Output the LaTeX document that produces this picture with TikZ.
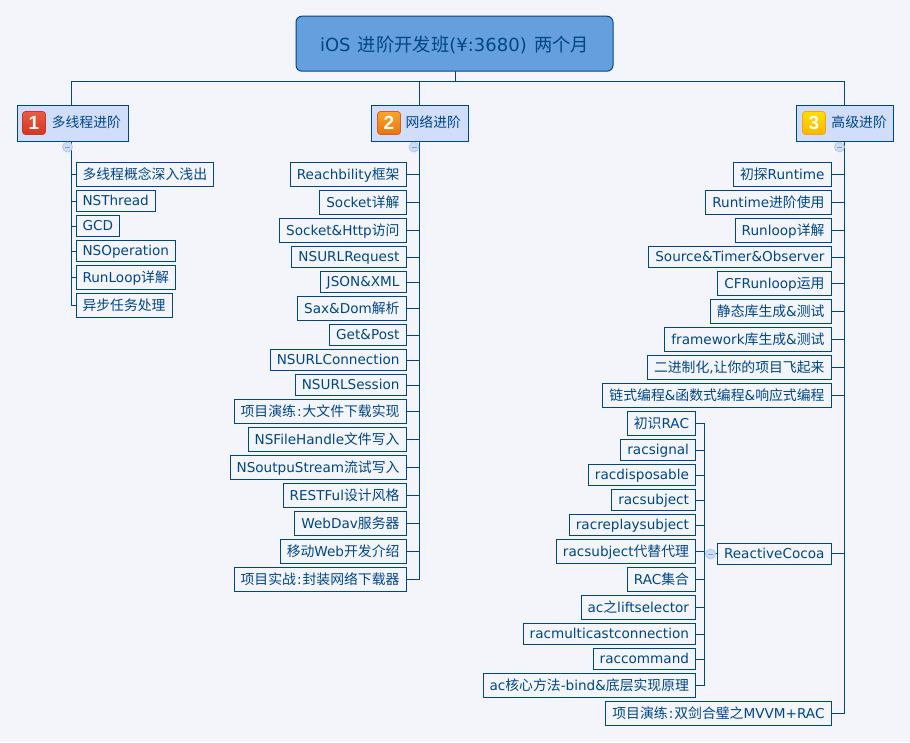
\documentclass[tikz,border=0pt]{standalone}
\usepackage{fontspec}
\setmainfont{DejaVu Sans}
\newfontfamily\cjk[Scale=1.018]{Noto Sans CJK SC}
\newfontfamily\numfont{Liberation Sans}
\newcommand{\zh}[1]{{\cjk #1}}
\newcommand{\colonsp}{\kern1pt:\kern1pt}
\usepackage{tikz}
\usetikzlibrary{arrows.meta,positioning}
\usepackage{xcolor}
\definecolor{inkblue}{RGB}{0,70,135}
\definecolor{pagetint}{RGB}{243,245,251}
\definecolor{rootblue}{RGB}{101,159,221}
\definecolor{branchblue}{RGB}{208,221,251}
\definecolor{foldblue}{RGB}{204,220,247}
\definecolor{redtop}{RGB}{234,92,68}
\definecolor{redbot}{RGB}{214,52,32}
\definecolor{redrim}{RGB}{190,60,45}
\definecolor{ambertop}{RGB}{248,166,44}
\definecolor{ambbot}{RGB}{232,116,14}
\definecolor{amberrim}{RGB}{216,92,36}
\definecolor{goldtop}{RGB}{255,222,0}
\definecolor{goldbot}{RGB}{255,182,0}
\definecolor{goldrim}{RGB}{248,162,36}

\begin{document}
\begin{tikzpicture}[x=1pt,y=-1pt,line width=1pt,
  link/.style={draw=inkblue,line width=1pt},
  rootbox/.style={draw=inkblue,fill=rootblue,rounded corners=6pt,text=inkblue,outer sep=0pt,minimum width=317pt,minimum height=55pt,text height=19pt,text depth=4pt,font=\fontsize{18}{20}\selectfont},
  branch/.style={draw=inkblue,fill=branchblue,text=inkblue,outer sep=0pt,inner xsep=7pt,inner ysep=0pt,minimum height=36pt,align=right,text height=12pt,text depth=3pt,font=\fontsize{13.6}{16}\selectfont},
  leaf/.style={draw=inkblue,text=inkblue,outer sep=0pt,inner xsep=6.5pt,inner ysep=0pt,minimum height=21pt,text height=12pt,text depth=3pt,font=\fontsize{13.6}{16}\selectfont},
  zleaf/.style={leaf,minimum height=24pt},
  nextl/.style={below=4pt of #1.south west,anchor=north west},
  nextr/.style={below=4pt of #1.south east,anchor=north east},
  badge/.style={rounded corners=3pt,minimum size=23pt,inner sep=0pt,outer sep=0pt,line width=.8pt,text=white,font=\numfont\bfseries\fontsize{19}{20}\selectfont},
  fold/.style={circle,draw=foldblue!85!inkblue,fill=foldblue,minimum size=10pt,inner sep=0pt,outer sep=0pt,line width=.6pt,
    path picture={\draw[inkblue!50,line width=.7pt] ([xshift=-2.5pt]path picture bounding box.center) -- ([xshift=2.5pt]path picture bounding box.center);}}]
  \fill[pagetint] (0,0) rectangle (910,742);

  \node (root) [rootbox] at (454.5,43.7) {iOS\hspace{1.5pt} \zh{进阶开发班}(¥:3680)\hspace{1.5pt} \zh{两个月}};
  \coordinate (hub) at (455,81.5);
  \node (multi) [branch,text width=97pt] at (72.5,123) {\zh{多线程进阶}};
  \node (net) [branch,text width=83pt] at (419.5,123) {\zh{网络进阶}};
  \node (adv) [branch,text width=83.7pt] at (845,123) {\zh{高级进阶}};
  \node (num1) [badge,draw=redrim,top color=redtop,bottom color=redbot] at (34,123) {1};
  \node (num2) [badge,draw=amberrim,top color=ambertop,bottom color=ambbot] at (389,123) {2};
  \node (num3) [badge,draw=goldrim,top color=goldtop,bottom color=goldbot] at (814,123) {3};
  \coordinate (multitop) at (71,105);
  \coordinate (nettop) at (419,105);
  \coordinate (advtop) at (844,105);
  \coordinate (multibus) at (71,141);
  \coordinate (netbus) at (419,141);
  \coordinate (advbus) at (844,141);

  \node (multi1) [zleaf,anchor=north west] at (76,162.5) {\zh{多线程概念深入浅出}};
  \node (multi2) [leaf,nextl=multi1] {NSThread};
  \node (multi3) [leaf,nextl=multi2] {GCD};
  \node (multi4) [leaf,nextl=multi3] {NSOperation};
  \node (multi5) [zleaf,nextl=multi4] {RunLoop\zh{详解}};
  \node (multi6) [zleaf,nextl=multi5] {\zh{异步任务处理}};

  \node (net1) [zleaf,anchor=north east] at (406,162.5) {Reachbility\zh{框架}};
  \node (net2) [zleaf,nextr=net1] {Socket\zh{详解}};
  \node (net3) [zleaf,nextr=net2] {Socket\&Http\zh{访问}};
  \node (net4) [leaf,nextr=net3] {NSURLRequest};
  \node (net5) [leaf,nextr=net4] {JSON\&XML};
  \node (net6) [zleaf,nextr=net5] {Sax\&Dom\zh{解析}};
  \node (net7) [leaf,nextr=net6] {Get\&Post};
  \node (net8) [leaf,nextr=net7] {NSURLConnection};
  \node (net9) [leaf,nextr=net8] {NSURLSession};
  \node (net10) [zleaf,nextr=net9] {\zh{项目演练}\colonsp\zh{大文件下载实现}};
  \node (net11) [zleaf,nextr=net10] {NSFileHandle\zh{文件写入}};
  \node (net12) [zleaf,nextr=net11] {NSoutpuStream\zh{流试写入}};
  \node (net13) [zleaf,nextr=net12] {RESTFul\zh{设计风格}};
  \node (net14) [zleaf,nextr=net13] {WebDav\zh{服务器}};
  \node (net15) [zleaf,nextr=net14] {\zh{移动}Web\zh{开发介绍}};
  \node (net16) [zleaf,nextr=net15] {\zh{项目实战}\colonsp\zh{封装网络下载器}};

  \node (adv1) [zleaf,anchor=north east] at (831,162.5) {\zh{初探}Runtime};
  \node (adv2) [zleaf,nextr=adv1] {Runtime\zh{进阶使用}};
  \node (adv3) [zleaf,nextr=adv2] {Runloop\zh{详解}};
  \node (adv4) [leaf,nextr=adv3] {Source\&Timer\&Observer};
  \node (adv5) [zleaf,nextr=adv4] {CFRunloop\zh{运用}};
  \node (adv6) [zleaf,nextr=adv5] {\zh{静态库生成}\&\zh{测试}};
  \node (adv7) [zleaf,nextr=adv6] {framework\zh{库生成}\&\zh{测试}};
  \node (adv8) [zleaf,nextr=adv7] {\zh{二进制化},\zh{让你的项目飞起来}};
  \node (adv9) [zleaf,nextr=adv8] {\zh{链式编程}\&\zh{函数式编程}\&\zh{响应式编程}};
  \node (advrac) [leaf,anchor=east] at (831,553.5) {ReactiveCocoa};
  \node (advlast) [zleaf,anchor=north east] at (831,701.5) {\zh{项目演练}\colonsp\zh{双剑合璧之}MVVM+RAC};

  \node (rac1) [zleaf,anchor=north east] at (695.5,411.5) {\zh{初识}RAC};
  \node (rac2) [leaf,nextr=rac1] {racsignal};
  \node (rac3) [leaf,nextr=rac2] {racdisposable};
  \node (rac4) [leaf,nextr=rac3] {racsubject};
  \node (rac5) [leaf,nextr=rac4] {racreplaysubject};
  \node (rac6) [zleaf,nextr=rac5] {racsubject\zh{代替代理}};
  \node (rac7) [zleaf,nextr=rac6] {RAC\zh{集合}};
  \node (rac8) [zleaf,nextr=rac7] {ac\zh{之}liftselector};
  \node (rac9) [leaf,nextr=rac8] {racmulticastconnection};
  \node (rac10) [leaf,nextr=rac9] {raccommand};
  \node (rac11) [zleaf,nextr=rac10] {ac\zh{核心方法}-bind\&\zh{底层实现原理}};
  \coordinate (racbus) at (704,553.5);

  \draw[link] (root.south -| hub) -- (hub);
  \draw[link] (hub) -| (multitop);
  \draw[link] (hub) -| (nettop);
  \draw[link] (hub) -| (advtop);

  \draw[link] (multibus) |- (multi1.west);
  \draw[link] (multibus) |- (multi2.west);
  \draw[link] (multibus) |- (multi3.west);
  \draw[link] (multibus) |- (multi4.west);
  \draw[link] (multibus) |- (multi5.west);
  \draw[link] (multibus) |- (multi6.west);

  \draw[link] (netbus) |- (net1.east);
  \draw[link] (netbus) |- (net2.east);
  \draw[link] (netbus) |- (net3.east);
  \draw[link] (netbus) |- (net4.east);
  \draw[link] (netbus) |- (net5.east);
  \draw[link] (netbus) |- (net6.east);
  \draw[link] (netbus) |- (net7.east);
  \draw[link] (netbus) |- (net8.east);
  \draw[link] (netbus) |- (net9.east);
  \draw[link] (netbus) |- (net10.east);
  \draw[link] (netbus) |- (net11.east);
  \draw[link] (netbus) |- (net12.east);
  \draw[link] (netbus) |- (net13.east);
  \draw[link] (netbus) |- (net14.east);
  \draw[link] (netbus) |- (net15.east);
  \draw[link] (netbus) |- (net16.east);

  \draw[link] (advbus) |- (adv1.east);
  \draw[link] (advbus) |- (adv2.east);
  \draw[link] (advbus) |- (adv3.east);
  \draw[link] (advbus) |- (adv4.east);
  \draw[link] (advbus) |- (adv5.east);
  \draw[link] (advbus) |- (adv6.east);
  \draw[link] (advbus) |- (adv7.east);
  \draw[link] (advbus) |- (adv8.east);
  \draw[link] (advbus) |- (adv9.east);
  \draw[link] (advbus) |- (advrac.east);
  \draw[link] (advbus) |- (advlast.east);

  \draw[link] (advrac.west) -- (racbus);
  \draw[link] (racbus) |- (rac1.east);
  \draw[link] (racbus) |- (rac2.east);
  \draw[link] (racbus) |- (rac3.east);
  \draw[link] (racbus) |- (rac4.east);
  \draw[link] (racbus) |- (rac5.east);
  \draw[link] (racbus) |- (rac6.east);
  \draw[link] (racbus) |- (rac7.east);
  \draw[link] (racbus) |- (rac8.east);
  \draw[link] (racbus) |- (rac9.east);
  \draw[link] (racbus) |- (rac10.east);
  \draw[link] (racbus) |- (rac11.east);

  \node (foldmulti) [fold] at (67.5,147) {};
  \node (foldnet) [fold] at (414,147) {};
  \node (foldadv) [fold] at (839.5,147) {};
  \node (foldrac) [fold] at (710.5,554) {};
\end{tikzpicture}
\end{document}
